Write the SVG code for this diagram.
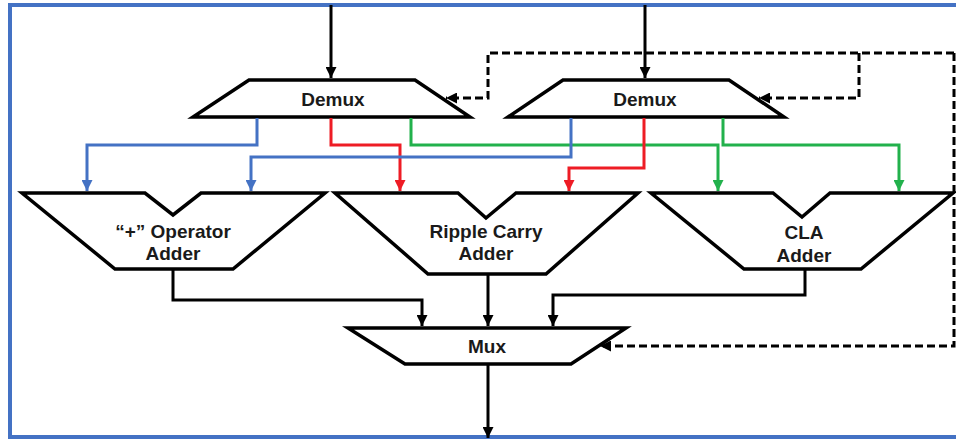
<svg xmlns="http://www.w3.org/2000/svg" width="956" height="441" viewBox="0 0 956 441">
<style>
.shape{fill:#fff;stroke:#000;stroke-width:3.5;stroke-linejoin:miter}
.lbl{font-family:"Liberation Sans",Arial,sans-serif;font-weight:bold;font-size:19px;text-anchor:middle;fill:#1a1a1a}
.w{fill:none;stroke-width:3;stroke-linejoin:miter}
.k{stroke:#000}
.b{stroke:#4472C4}
.r{stroke:#EE1C25}
.g{stroke:#22B14C}
.d{stroke:#000;stroke-dasharray:8,4}
</style>
<defs>
<marker id="ak" viewBox="0 0 10 10" refX="10" refY="5" markerWidth="11" markerHeight="11" markerUnits="userSpaceOnUse" orient="auto"><path d="M0,0 L10,5 L0,10 z" fill="#000"/></marker>
<marker id="ab" viewBox="0 0 10 10" refX="10" refY="5" markerWidth="11" markerHeight="11" markerUnits="userSpaceOnUse" orient="auto"><path d="M0,0 L10,5 L0,10 z" fill="#4472C4"/></marker>
<marker id="ar" viewBox="0 0 10 10" refX="10" refY="5" markerWidth="11" markerHeight="11" markerUnits="userSpaceOnUse" orient="auto"><path d="M0,0 L10,5 L0,10 z" fill="#EE1C25"/></marker>
<marker id="ag" viewBox="0 0 10 10" refX="10" refY="5" markerWidth="11" markerHeight="11" markerUnits="userSpaceOnUse" orient="auto"><path d="M0,0 L10,5 L0,10 z" fill="#22B14C"/></marker>
</defs>
<rect width="956" height="441" fill="#fff"/>
<path id="frame" d="M956,5 H10 V437 H956" fill="none" stroke="#4472C4" stroke-width="4"/>

<g id="demux1"><polygon class="shape" points="249,80 415,80 470,117 193,117"/><text class="lbl" x="333" y="106">Demux</text></g>
<g id="demux2"><polygon class="shape" points="563,80 729,80 784,117 508,117"/><text class="lbl" x="645" y="106">Demux</text></g>
<g id="adder-op"><polygon class="shape" points="22,193 145,193 173,215 201,193 325,193 233,269 115,269"/><text class="lbl" x="173" y="238">“+” Operator</text><text class="lbl" x="173" y="260">Adder</text></g>
<g id="adder-rc"><polygon class="shape" points="335,193 458,193 486,218 516,193 638,193 546,274 428,274"/><text class="lbl" x="486" y="238">Ripple Carry</text><text class="lbl" x="486" y="260">Adder</text></g>
<g id="adder-cla"><polygon class="shape" points="651,193 773,193 802,217 830,193 953,193 861,269 744,269"/><text class="lbl" x="804" y="239">CLA</text><text class="lbl" x="804" y="262">Adder</text></g>
<g id="mux"><polygon class="shape" points="348,328 626,328 571,364 405,364"/><text class="lbl" x="487" y="353">Mux</text></g>

<g id="connectors">
<path class="w k" d="M331,5 V78" marker-end="url(#ak)"/>
<path class="w k" d="M645,5 V78" marker-end="url(#ak)"/>
<path class="w d" d="M954,53 H488 V98 H446" marker-end="url(#ak)"/>
<path class="w d" d="M859,53 V98 H759" marker-end="url(#ak)"/>
<path class="w d" d="M954,53 V346 H600" marker-end="url(#ak)"/>

<path class="w b" d="M257,118 V145 H87 V191" marker-end="url(#ab)"/>
<path class="w r" d="M331,118 V145 H400 V191" marker-end="url(#ar)"/>
<path class="w g" d="M411,118 V145 H718 V191" marker-end="url(#ag)"/>
<path class="w b" d="M571,118 V157 H251 V191" marker-end="url(#ab)"/>
<path class="w r" d="M644,118 V168 H569 V191" marker-end="url(#ar)"/>
<path class="w g" d="M723,118 V145 H899 V191" marker-end="url(#ag)"/>

<path class="w k" d="M173,270 V300 H422 V326" marker-end="url(#ak)"/>
<path class="w k" d="M488,275 V326" marker-end="url(#ak)"/>
<path class="w k" d="M805,270 V295 H553 V326" marker-end="url(#ak)"/>
<path class="w k" d="M488,365 V438" marker-end="url(#ak)"/>
</g>
</svg>
